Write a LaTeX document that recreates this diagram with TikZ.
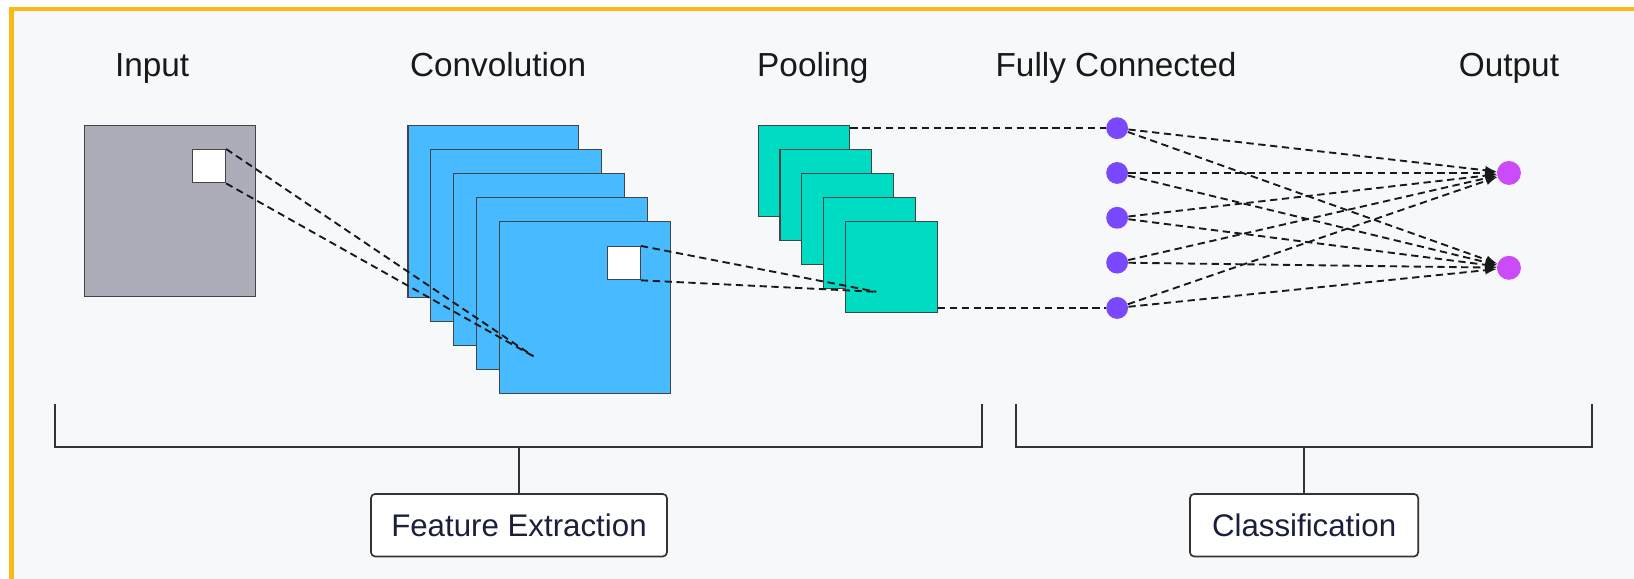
\documentclass[tikz,border=0pt]{standalone}
\usepackage{fontspec}
\setmainfont{Liberation Sans}
\usetikzlibrary{arrows}
\definecolor{framegold}{HTML}{F9B917}
\definecolor{panel}{HTML}{F7F8FA}
\definecolor{inputgray}{HTML}{ADADB9}
\definecolor{convblue}{HTML}{48BAFF}
\definecolor{poolteal}{HTML}{00DBC4}
\definecolor{fcviolet}{HTML}{7A49FF}
\definecolor{outpink}{HTML}{CC4BF8}
\definecolor{edgegray}{HTML}{444444}
\definecolor{inknavy}{HTML}{1B1F3B}
\begin{document}
\begin{tikzpicture}[
                            x=0.5pt, y=-0.5pt,
                            >=latex,
                            title/.style={anchor=base, font=\fontsize{16}{19}\selectfont, text=black!90},
                            fmap/.style={rectangle, draw=edgegray, line width=0.5pt, anchor=north west, inner sep=0pt},
                            bigmap/.style={fmap, minimum width=82pt, minimum height=82.5pt},
                            smallmap/.style={fmap, fill=poolteal, minimum width=44pt, minimum height=43.5pt},
                            window/.style={fmap, fill=white, minimum size=16pt},
                            neuron/.style={circle, inner sep=0pt, minimum size=10.5pt},
                            link/.style={black!90, line width=0.9pt, dash pattern=on 3.5pt off 2.2pt},
                            stage/.style={rectangle, rounded corners=2pt, draw=black!80, line width=0.8pt, fill=white,
                                          minimum height=30pt, text=inknavy, font=\fontsize{15}{18}\selectfont}
                        ]
                        \useasboundingbox (0,0) rectangle (1568,554.7);
                        \fill[white] (0,0) rectangle (1568,554.7);
                        \draw[framegold, line width=2pt, fill=panel] (11,9) rectangle (1600,600);

                        % Titles
                        \node [title] (tin) at (146,73.6) {Input};
                        \node [title] (tconv) at (478,73.6) {Convolution};
                        \node [title] (tpool) at (780,73.6) {Pooling};
                        \node [title] (tfc) at (1071,73.6) {Fully Connected};
                        \node [title] (tout) at (1448,73.6) {Output};

                        % Input image
                        \node [bigmap, fill=inputgray, minimum height=82pt] (img) at (81,120) {};
                        \node [window] (imgwin) at (184,143) {};

                        % Convolution maps
                        \node [bigmap, fill=convblue] (c1) at (391,120) {};
                        \node [bigmap, fill=convblue] (c2) at (413,143) {};
                        \node [bigmap, fill=convblue] (c3) at (435,166) {};
                        \node [bigmap, fill=convblue] (c4) at (457,189) {};
                        \node [bigmap, fill=convblue] (c5) at (479,212) {};
                        \node [window] (convwin) at (582,236) {};

                        % Pooling maps
                        \node [smallmap] (p1) at (727,120) {};
                        \node [smallmap] (p2) at (748,143) {};
                        \node [smallmap] (p3) at (769,166) {};
                        \node [smallmap] (p4) at (790,189) {};
                        \node [smallmap] (p5) at (811,212) {};

                        % Neurons
                        \node [neuron, fill=fcviolet] (f1) at (1072,123) {};
                        \node [neuron, fill=fcviolet] (f2) at (1072,166) {};
                        \node [neuron, fill=fcviolet] (f3) at (1072,209) {};
                        \node [neuron, fill=fcviolet] (f4) at (1072,252) {};
                        \node [neuron, fill=fcviolet] (f5) at (1072,295.5) {};
                        \node [neuron, fill=outpink, minimum size=11.5pt] (o1) at (1448,166) {};
                        \node [neuron, fill=outpink, minimum size=11.5pt] (o2) at (1448,257) {};

                        % Receptive fields
                        \coordinate (convfocus) at (512,342);
                        \coordinate (poolfocus) at (841,280);
                        \draw [link] (imgwin.north east) -- (convfocus);
                        \draw [link] (imgwin.south east) -- (convfocus);
                        \draw [link] (convwin.north east) -- (poolfocus);
                        \draw [link] (convwin.south east) -- (poolfocus);

                        % Connections
                        \draw [link] (p1.north east |- f1) -- (f1);
                        \draw [link] (p5.south east |- f5) -- (f5);
                        \foreach \i in {1,...,5}
                            \foreach \j in {1,2}
                                \draw [link,->] (f\i) -- (o\j);

                        % Stages
                        \node [stage, minimum width=142pt] (fbox) at (498,504) {Feature Extraction};
                        \node [stage, minimum width=109.5pt] (cbox) at (1251.4,504) {Classification};
                        \coordinate (fleft) at (53,388);
                        \coordinate (fright) at (942,388);
                        \coordinate (fmid) at (498,429);
                        \coordinate (cleft) at (975,388);
                        \coordinate (cright) at (1528,388);
                        \coordinate (cmid) at (1251.4,429);
                        \draw [black!80, line width=1pt] (fleft) |- (fmid) -| (fright);
                        \draw [black!80, line width=1pt] (cleft) |- (cmid) -| (cright);
                        \draw [black!80, line width=0.8pt] (fmid) -- (fbox);
                        \draw [black!80, line width=0.8pt] (cmid) -- (cbox);
                    \end{tikzpicture}
\end{document}
